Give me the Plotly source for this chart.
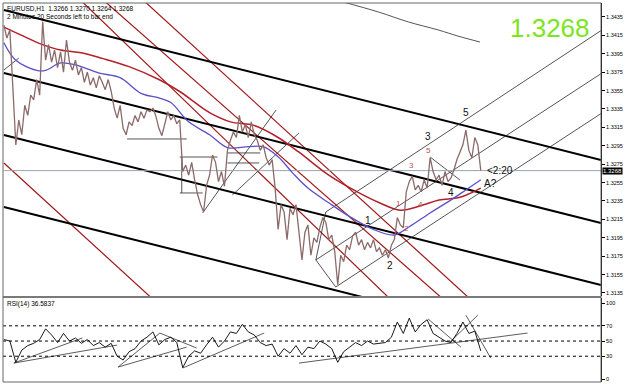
import plotly.graph_objects as go

# ---------------- data (bar index, price) ----------------
bars = list(range(161))
close = [1.3426, 1.3412, 1.3421, 1.3350, 1.3296, 1.3323, 1.3307, 1.3339, 1.3328, 1.3350,
         1.3345, 1.3367, 1.3350, 1.3430, 1.3388, 1.3405, 1.3386, 1.3399, 1.3380, 1.3397,
         1.3375, 1.3410, 1.3386, 1.3377, 1.3388, 1.3372, 1.3380, 1.3364, 1.3375, 1.3361,
         1.3369, 1.3358, 1.3371, 1.3364, 1.3356, 1.3367, 1.3354, 1.3336, 1.3325, 1.3339,
         1.3314, 1.3307, 1.3321, 1.3317, 1.3328, 1.3321, 1.3332, 1.3325, 1.3334, 1.3332,
         1.3336, 1.3327, 1.3314, 1.3306, 1.3318, 1.3332, 1.3323, 1.3328, 1.3319, 1.3323,
         1.3267, 1.3274, 1.3263, 1.3277, 1.3258, 1.3242, 1.3231, 1.3223, 1.3252, 1.3263,
         1.3285, 1.3277, 1.3256, 1.3267, 1.3251, 1.3290, 1.3301, 1.3310, 1.3304, 1.3328,
         1.3310, 1.3318, 1.3304, 1.3321, 1.3307, 1.3301, 1.3290, 1.3296, 1.3282, 1.3274,
         1.3280, 1.3249, 1.3204, 1.3231, 1.3223, 1.3193, 1.3227, 1.3220, 1.3231, 1.3198,
         1.3171, 1.3201, 1.3209, 1.3176, 1.3195, 1.3190, 1.3206, 1.3217, 1.3212, 1.3193,
         1.3198, 1.3180, 1.3144, 1.3176, 1.3169, 1.3187, 1.3182, 1.3197, 1.3201, 1.3187,
         1.3193, 1.3182, 1.3190, 1.3184, 1.3193, 1.3180, 1.3184, 1.3176, 1.3182, 1.3173,
         1.3187, 1.3193, 1.3217, 1.3209, 1.3206, 1.3245, 1.3256, 1.3262, 1.3247, 1.3252,
         1.3245, 1.3258, 1.3249, 1.3282, 1.3267, 1.3258, 1.3263, 1.3252, 1.3267, 1.3256,
         1.3260, 1.3269, 1.3280, 1.3288, 1.3296, 1.3312, 1.3290, 1.3282, 1.3304, 1.3296,
         1.3268]

ma_red_bar = [0, 6, 13, 19, 26, 33, 42, 52, 59, 69, 76, 84, 92, 99, 109, 119, 126, 133, 140, 146, 153, 160]
ma_red_val = [1.3424, 1.3415, 1.3405, 1.3399, 1.3396, 1.3390, 1.3381, 1.3367, 1.3354, 1.3331, 1.3321,
              1.3317, 1.3304, 1.3288, 1.3263, 1.3244, 1.3233, 1.3225, 1.3230, 1.3236, 1.3239, 1.3249]

ma_blue_bar = [0, 4, 11, 14, 19, 24, 32, 39, 46, 52, 56, 62, 69, 75, 82, 87, 92, 97, 102, 109,
               116, 124, 131, 136, 143, 149, 155, 160]
ma_blue_val = [1.3407, 1.3388, 1.3377, 1.3377, 1.3385, 1.3383, 1.3374, 1.3369, 1.3352, 1.3347,
               1.3342, 1.3321, 1.3307, 1.3293, 1.3294, 1.3294, 1.3283, 1.3265, 1.3249, 1.3233,
               1.3218, 1.3204, 1.3198, 1.3207, 1.3222, 1.3234, 1.3247, 1.3258]

far_ma_bar = [113, 125.7, 135.7, 145.7, 152.3, 159.7]
far_ma_val = [1.3452, 1.34404, 1.34296, 1.34209, 1.34143, 1.34078]

# trendlines: (bar0, price0, bar1, price1)
black_channel = [(0, 1.34426, 200.33, 1.32796),
                 (0, 1.33741, 200.33, 1.32111),
                 (0, 1.33067, 200.33, 1.31437),
                 (0, 1.32285, 200.33, 1.30654)]
red_channel = [(0, 1.32763, 65.67, 1.30817),
               (25.67, 1.34535, 132.33, 1.31198),
               (33.33, 1.34535, 150.33, 1.31198),
               (46.67, 1.34535, 159.33, 1.31198)]
thin_lines = [(108, 1.32230, 200.67, 1.34209),
              (104.67, 1.31709, 200.67, 1.33741),
              (111.33, 1.31415, 200.67, 1.33307),
              (104.67, 1.31709, 108, 1.32230),
              (104.67, 1.31709, 111.33, 1.31415),
              (66.67, 1.32220, 91.33, 1.33339),
              (76.67, 1.32415, 99, 1.33089),
              (41.33, 1.33024, 61.33, 1.33024),
              (59, 1.32828, 71.67, 1.32828),
              (59, 1.32437, 66.67, 1.32437),
              (59.67, 1.32828, 59.67, 1.32437),
              (75, 1.32763, 85.67, 1.32763),
              (75, 1.32872, 86, 1.32872),
              (0, 1.33774, 5, 1.33904),
              (143, 1.32828, 153, 1.32578)]

last_price = 1.3268
price_ticks = [1.3435, 1.3415, 1.3395, 1.3375, 1.3355, 1.3335, 1.3315, 1.3295,
               1.3275, 1.3255, 1.3235, 1.3215, 1.3195, 1.3175, 1.3155, 1.3135]

rsi_bar = list(range(0, 161, 2))
rsi_val = [52, 50, 22, 38, 44, 47, 52, 66, 58, 48, 60, 50, 54, 47, 52, 44, 48, 42, 47, 30,
           25, 36, 40, 50, 55, 62, 45, 52, 55, 48, 15, 30, 37, 34, 45, 55, 42, 50, 62, 60,
           72, 62, 58, 48, 44, 46, 30, 40, 34, 44, 32, 42, 40, 50, 46, 40, 22, 36, 42, 48,
           44, 50, 46, 47, 48, 55, 75, 60, 80, 62, 72, 78, 60, 55, 50, 48, 60, 75, 60, 63, 37]
rsi_levels = [70, 50, 30]
rsi_ticks = [100, 70, 50, 30, 0]
rsi_lines = [(3.33, 21, 38, 44.7), (3.33, 21, 26.33, 54), (38.33, 15.8, 61.33, 42),
             (38.33, 15.8, 52.33, 60.5), (52.33, 60.5, 64.67, 40.8), (60, 14.5, 87.33, 60.5),
             (99, 21, 175.67, 60.5), (142.33, 79, 153.33, 42), (149.67, 48.7, 159, 84),
             (155, 84, 163.33, 27.6)]

black_labels = [("5", 155, 1.33317), ("3", 142.3, 1.33046), ("4", 150, 1.32437),
                ("1", 122, 1.32143), ("2", 129.7, 1.31654)]
red_labels = [("5", 142.3, 1.32904), ("3", 136.7, 1.32741), ("1", 132.3, 1.32328),
              ("2", 135, 1.32046), ("4", 139.7, 1.32307)]

FONT = "Liberation Sans, Arial, sans-serif"
fig = go.Figure()

def seg(lines, color, width, xa="x", ya="y"):
    for b0, p0, b1, p1 in lines:
        fig.add_trace(go.Scatter(x=[b0, b1], y=[p0, p1], mode="lines", xaxis=xa, yaxis=ya,
                                 line=dict(color=color, width=width), hoverinfo="skip"))

seg(red_channel, "#A31515", 1.2)
seg(black_channel, "#000000", 2)
seg(thin_lines, "#2a2a2a", 0.8)
fig.add_trace(go.Scatter(x=far_ma_bar, y=far_ma_val, mode="lines", line=dict(color="#555", width=1, shape="spline")))
fig.add_trace(go.Scatter(x=[0, 200.33], y=[last_price, last_price], mode="lines",
                         line=dict(color="#98a4b0", width=1)))
fig.add_trace(go.Scatter(x=ma_red_bar, y=ma_red_val, mode="lines",
                         line=dict(color="#B3202A", width=1.5, shape="spline")))
fig.add_trace(go.Scatter(x=ma_blue_bar, y=ma_blue_val, mode="lines",
                         line=dict(color="#5A4FC8", width=1.3, shape="spline")))
fig.add_trace(go.Scatter(x=bars, y=close, mode="lines", line=dict(color="#8C6A6A", width=1.3)))

# RSI
seg(rsi_lines, "#333333", 0.8, "x2", "y2")
fig.add_trace(go.Scatter(x=rsi_bar, y=rsi_val, mode="lines", xaxis="x2", yaxis="y2",
                         line=dict(color="#000000", width=0.9)))

ann = []
for t, b, p in black_labels:
    ann.append(dict(x=b, y=p, xref="x", yref="y", text=t, showarrow=False,
                    font=dict(size=10, color="#111", family=FONT)))
for t, b, p in red_labels:
    ann.append(dict(x=b, y=p, xref="x", yref="y", text=t, showarrow=False,
                    font=dict(size=8, color="#C0504D", family=FONT)))
ann.append(dict(x=160.5, y=1.32535, xref="x", yref="y", text="A?", showarrow=False, xanchor="left",
                font=dict(size=10, color="#111", family=FONT)))
ann.append(dict(x=161.5, y=last_price, xref="x", yref="y", text="<2:20", showarrow=False, xanchor="left",
                font=dict(size=10, color="#111", family=FONT)))
ann.append(dict(x=0.915, y=0.935, xref="paper", yref="paper", text="1.3268", showarrow=False,
                xanchor="center", yanchor="middle",
                font=dict(size=26, color="#7CE51E", family=FONT)))
ann.append(dict(x=0.003, y=1.0, xref="paper", yref="paper", xanchor="left", yanchor="top",
                text="EURUSD,H1  1.3266 1.3270 1.3264 1.3268<br>2 Minutes 20 Seconds left to bar end",
                showarrow=False, align="left", font=dict(size=6.5, color="#000", family=FONT)))
ann.append(dict(x=0.003, y=0.222, xref="paper", yref="paper", xanchor="left", yanchor="top",
                text="RSI(14) 36.5837", showarrow=False, font=dict(size=6.5, color="#000", family=FONT)))
ann.append(dict(x=1.0, y=last_price, xref="paper", yref="y", xanchor="left", text="1.3268",
                showarrow=False, bgcolor="#000", borderpad=0, xshift=1,
                font=dict(size=6, color="#fff", family=FONT)))

shapes = []
for lv in rsi_levels:
    shapes.append(dict(type="line", xref="paper", yref="y2", x0=0, x1=1, y0=lv, y1=lv,
                       line=dict(color="#000", width=1, dash="dot")))
shapes.append(dict(type="rect", xref="paper", yref="paper", x0=0, x1=1, y0=0.2216, y1=0.2269,
                   line=dict(width=0), fillcolor="#7a7a7a"))
shapes.append(dict(type="rect", xref="paper", yref="paper", x0=0, x1=1, y0=0, y1=1,
                   line=dict(color="#666", width=1)))

xcommon = dict(range=[-0.3, 200.33], showgrid=False, zeroline=False, showticklabels=False,
               ticks="", showline=False, fixedrange=True)
ycommon = dict(side="right", showgrid=False, zeroline=False, ticks="outside", ticklen=3,
               tickcolor="#000", showline=True, linecolor="#000", linewidth=1,
               tickfont=dict(size=5.5, color="#000", family=FONT))

fig.update_layout(
    width=625, height=384, margin=dict(l=3, r=21, t=3, b=2),
    paper_bgcolor="#fff", plot_bgcolor="#fff", showlegend=False,
    xaxis=dict(domain=[0, 1], anchor="y", **xcommon),
    xaxis2=dict(domain=[0, 1], anchor="y2", **xcommon),
    yaxis=dict(domain=[0.2269, 1], anchor="x", range=[1.31317, 1.34502],
               tickvals=price_ticks, ticktext=[f"{v:.4f}" for v in price_ticks], **ycommon),
    yaxis2=dict(domain=[0, 0.2216], anchor="x2", range=[-3.9, 106.6],
                tickvals=rsi_ticks, ticktext=[str(v) for v in rsi_ticks], **ycommon),
    annotations=ann, shapes=shapes,
)

fig.write_html("out.html")
